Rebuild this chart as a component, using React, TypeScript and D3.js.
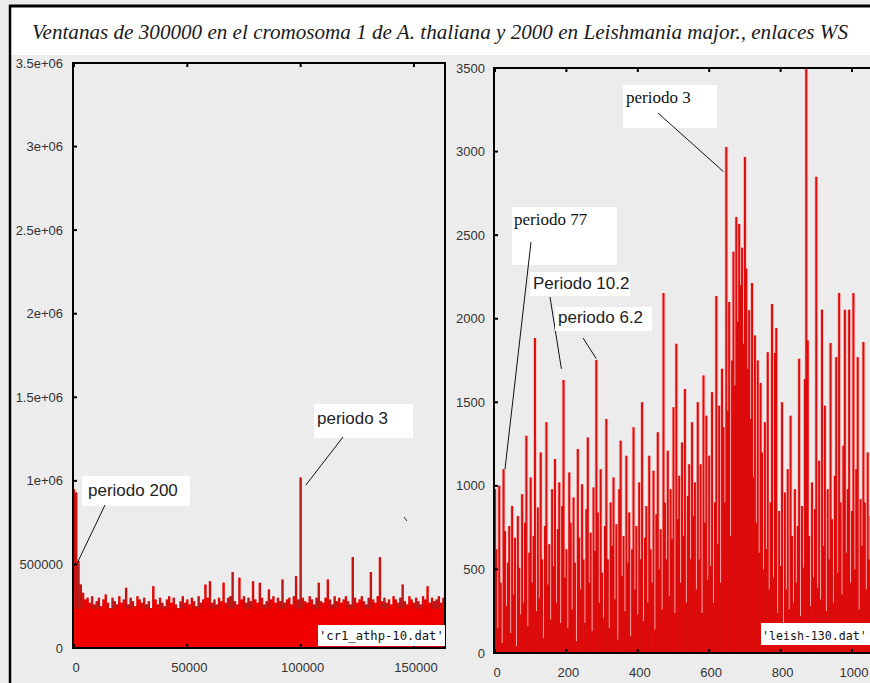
import React from 'react';
import * as d3 from 'd3';

const TITLE = 'Ventanas de 300000 en el cromosoma 1 de A. thaliana y 2000 en Leishmania major., enlaces WS';

// Left panel (A. thaliana, window 300000)
const leftTicksY = [0, 500000, 1000000, 1500000, 2000000, 2500000, 3000000, 3500000];
const leftTickLabelsY = ['0', '500000', '1e+06', '1.5e+06', '2e+06', '2.5e+06', '3e+06', '3.5e+06'];
const leftTicksX = [0, 50000, 100000, 150000];
const leftTickLabelsX = ['0', '50000', '100000', '150000'];
const leftStep = 1000;
// values in thousands
const leftValuesK = [
  950, 930, 520, 380, 330, 290, 300, 270, 310, 260,
  280, 300, 250, 290, 320, 270, 240, 300, 280, 260,
  310, 270, 290, 360, 260, 300, 280, 250, 310, 290,
  270, 300, 260, 280, 240, 370, 290, 260, 300, 270,
  250, 290, 310, 270, 300, 260, 240, 280, 310, 270,
  290, 260, 300, 280, 250, 310, 270, 290, 380, 300,
  400, 270, 290, 260, 300, 280, 390, 270, 300, 310,
  455, 280, 260, 420, 290, 310, 270, 300, 280, 400,
  290, 270, 390, 300, 260, 280, 350, 290, 310, 270,
  300, 280, 410, 270, 290, 300, 260, 310, 430, 290,
  1020, 300, 280, 270, 310, 290, 260, 300, 390, 280,
  270, 300, 410, 290, 260, 310, 280, 300, 270, 290,
  310, 280, 260, 545, 300, 270, 290, 310, 280, 260,
  300, 455, 290, 270, 310, 545, 280, 300, 270, 290,
  260, 310, 290, 270, 300, 380, 280, 260, 310, 290,
  270, 300, 280, 260, 310, 290, 370, 270, 300, 280,
  290, 310, 270, 300,
];
const leftLegend = "'cr1_athp-10.dat'";

// Right panel (Leishmania major, window 2000)
const rightTicksY = [0, 500, 1000, 1500, 2000, 2500, 3000, 3500];
const rightTicksX = [0, 200, 400, 600, 800, 1000];
const rightStep = 4;
const rightValues = [
  980, 620, 150, 1000, 420, 60, 1100, 730, 280, 540,
  760, 120, 880, 350, 690, 40, 820, 510, 230, 950,
  300, 780, 1300, 160, 600, 1050, 420, 700, 1885, 250,
  870, 330, 1200, 560, 90, 760, 1380, 410, 650, 200,
  980, 520, 1160, 300, 740, 1020, 180, 880, 1633, 450,
  620, 150, 1080, 780, 260, 930, 540, 70, 1220, 690,
  380, 1010, 560, 180, 860, 1290, 420, 720, 130, 990,
  610, 1753, 840, 300, 1100, 480, 210, 760, 1400, 560,
  150, 900, 640, 1050, 320, 770, 80, 980, 1270, 460,
  700, 250, 1180, 540, 840, 100, 620, 1350, 380, 760,
  230, 1020, 560, 1500, 190, 690, 880, 300, 1180, 620,
  420, 1090, 140, 830, 1320, 500, 740, 260, 2154, 900,
  560, 1210, 340, 980, 680, 1470, 240, 1850, 800, 1060,
  420, 1260, 700, 1580, 300, 940, 1130, 560, 1380, 820,
  1020, 380, 1500, 560, 1130, 240, 1660, 780, 1420, 440,
  1180, 520, 1560, 300, 900, 2136, 650, 1480, 420, 1700,
  1350, 900, 3028, 1450, 2100, 700, 1750, 2400, 1600, 2609,
  1980, 2567, 2200, 2424, 1850, 2968, 2300, 1700, 2050, 1400,
  2214, 1050, 1900, 780, 1750, 600, 1616, 1200, 500, 1380,
  620, 1800, 380, 900, 2088, 450, 1795, 1945, 240, 850,
  520, 1500, 180, 960, 380, 1100, 260, 1420, 700, 300,
  980, 420, 760, 1760, 220, 880, 510, 1640, 3500, 1870,
  700, 280, 1020, 450, 860, 2849, 390, 1150, 320, 2053,
  640, 1480, 250, 980, 560, 1855, 800, 300, 1060, 1771,
  480, 2154, 900, 350, 1240, 2053, 600, 980, 2053, 420,
  850, 2154, 500, 1100, 1770, 260, 920, 640, 1860, 900,
  380, 1200, 560, 820, 300,
];
const rightLegend = "'leish-130.dat'";

const SANS = '"Liberation Sans", Arial, sans-serif';
const SERIF = '"Liberation Serif", "Times New Roman", serif';
const MONO = '"DejaVu Sans Mono", monospace';

export default function App() {
  const W = 870, H = 683;
  const BG = '#ececec';

  // Left scales
  const L = { x0: 73, x1: 445, y0: 63, y1: 648 };
  const xL = d3.scaleLinear().domain([0, 163700]).range([74, 445]);
  const yL = d3.scaleLinear().domain([0, 3500000]).range([648, 63]);
  // Right scales
  const R = { x0: 494, x1: 880, y0: 68, y1: 653 };
  const xR = d3.scaleLinear().domain([0, 1000]).range([495, 852]);
  const yR = d3.scaleLinear().domain([0, 3500]).range([653, 68]);

  const leftPath = leftValuesK
    .map((v, i) => `M${xL(i * leftStep).toFixed(2)},${yL(0)}V${yL(v * 1000).toFixed(2)}`)
    .join('');
  const leftTipPath = leftValuesK
    .map((v, i) => (v > 235 ? `M${xL(i * leftStep).toFixed(2)},${yL(235000).toFixed(2)}V${yL(v * 1000).toFixed(2)}` : ''))
    .join('');
  const rightPath = rightValues
    .map((v, i) => `M${xR(i * rightStep).toFixed(2)},${yR(0)}V${yR(v).toFixed(2)}`)
    .join('');

  const tickLen = 4;

  return (
    <svg width={W} height={H} style={{ position: 'fixed', left: 0, top: 0, background: BG }}>
      <defs>
        <clipPath id="clipL"><rect x={L.x0} y={L.y0} width={L.x1 - L.x0} height={L.y1 - L.y0} /></clipPath>
        <clipPath id="clipR"><rect x={R.x0} y={R.y0} width={R.x1 - R.x0} height={R.y1 - R.y0} /></clipPath>
      </defs>
      <rect x={0} y={0} width={W} height={H} fill={BG} />
      {/* title area */}
      <rect x={10} y={6} width={W - 10} height={49} fill="#ffffff" />
      <line x1={9} x2={W} y1={6} y2={6} stroke="#000" strokeWidth={3} />
      <line x1={10} x2={10} y1={5} y2={H} stroke="#000" strokeWidth={2.5} />
      <text x={32} y={39} fontFamily={SERIF} fontStyle="italic" fontSize={21} fill="#1a1a1a"
        textLength={816} lengthAdjust="spacingAndGlyphs">{TITLE}</text>

      {/* ---------- Left panel ---------- */}
      <g clipPath="url(#clipL)">
        <path d={leftPath} stroke="#f00000" strokeWidth={2.4} fill="none" />
        <path d={leftTipPath} stroke="#b51c1c" strokeWidth={1.1} fill="none" />
      </g>
      <rect x={L.x0} y={L.y0} width={L.x1 - L.x0} height={L.y1 - L.y0} fill="none" stroke="#000" strokeWidth={2} />
      {leftTicksY.map((t, i) => (
        <g key={'ly' + i}>
          <line x1={L.x0} x2={L.x0 + tickLen} y1={yL(t)} y2={yL(t)} stroke="#000" strokeWidth={2} />
          <text x={63} y={yL(t)} dy="0.35em" textAnchor="end" fontFamily={SANS} fontSize={13} fill="#333">{leftTickLabelsY[i]}</text>
        </g>
      ))}
      {leftTicksX.map((t, i) => (
        <g key={'lx' + i}>
          <line x1={xL(t)} x2={xL(t)} y1={L.y1} y2={L.y1 - tickLen} stroke="#000" strokeWidth={2} />
          <line x1={xL(t)} x2={xL(t)} y1={L.y0} y2={L.y0 + tickLen} stroke="#000" strokeWidth={2} />
          <text x={xL(t) + 2} y={672} textAnchor="middle" fontFamily={SANS} fontSize={13} fill="#333">{leftTickLabelsX[i]}</text>
        </g>
      ))}
      {/* legend */}
      <rect x={318} y={625} width={127} height={21} fill="#fff" />
      <text x={319} y={640} fontFamily={MONO} fontSize={12.2} fill="#111">{leftLegend}</text>
      {/* annotations left */}
      <rect x={82} y={476} width={108} height={30} fill="#fff" />
      <text x={88} y={496} fontFamily={SANS} fontSize={17} fill="#222">periodo 200</text>
      <line x1={105} y1={505} x2={xL(1500)} y2={yL(510000)} stroke="#111" strokeWidth={1} />
      <rect x={314} y={404} width={99} height={34} fill="#fff" />
      <text x={317} y={424} fontFamily={SANS} fontSize={17} fill="#222">periodo 3</text>
      <line x1={343} y1={437} x2={xL(100500) + 4} y2={yL(1010000) + 6} stroke="#111" strokeWidth={1} />
      <line x1={404} y1={517} x2={407} y2={521} stroke="#333" strokeWidth={1} />

      {/* ---------- Right panel ---------- */}
      <g clipPath="url(#clipR)">
        <path d={rightPath} stroke="#f2b8b8" strokeWidth={3.6} fill="none" />
        <path d={rightPath} stroke="#f00000" strokeWidth={1.9} fill="none" />
        <path d={rightPath} stroke="#b82222" strokeWidth={0.5} fill="none" />
      </g>
      <rect x={R.x0} y={R.y0} width={R.x1 - R.x0} height={R.y1 - R.y0} fill="none" stroke="#000" strokeWidth={2} />
      {rightTicksY.map((t, i) => (
        <g key={'ry' + i}>
          <line x1={R.x0} x2={R.x0 + tickLen} y1={yR(t)} y2={yR(t)} stroke="#000" strokeWidth={2} />
          <text x={485} y={yR(t)} dy="0.35em" textAnchor="end" fontFamily={SANS} fontSize={13} fill="#333">{String(t)}</text>
        </g>
      ))}
      {rightTicksX.map((t, i) => (
        <g key={'rx' + i}>
          <line x1={xR(t)} x2={xR(t)} y1={R.y1} y2={R.y1 - tickLen} stroke="#000" strokeWidth={2} />
          <line x1={xR(t)} x2={xR(t)} y1={R.y0} y2={R.y0 + tickLen} stroke="#000" strokeWidth={2} />
          <text x={xR(t) + 2} y={677} textAnchor="middle" fontFamily={SANS} fontSize={13} fill="#333">{String(t)}</text>
        </g>
      ))}
      <rect x={761} y={623} width={115} height={22} fill="#fff" />
      <text x={762} y={640} fontFamily={MONO} fontSize={11.6} fill="#111">{rightLegend}</text>

      {/* annotations right */}
      <rect x={623} y={85} width={94} height={43} fill="#fff" />
      <text x={626} y={103} fontFamily={SERIF} fontSize={17} fill="#111">periodo 3</text>
      <line x1={658} y1={113} x2={xR(640)} y2={yR(2880)} stroke="#111" strokeWidth={1} />

      <rect x={512} y={207} width={105} height={58} fill="#fff" />
      <text x={514} y={225} fontFamily={SERIF} fontSize={17} fill="#111">periodo 77</text>
      <line x1={531} y1={242} x2={xR(28)} y2={yR(1100)} stroke="#111" strokeWidth={1} />

      <rect x={530} y={272} width={100} height={24} fill="#fff" />
      <text x={533} y={289} fontFamily={SANS} fontSize={17} fill="#222">Periodo 10.2</text>
      <line x1={550} y1={297} x2={xR(186)} y2={yR(1700)} stroke="#111" strokeWidth={1} />

      <rect x={555} y={307} width={97} height={24} fill="#fff" />
      <text x={558} y={323} fontFamily={SANS} fontSize={17} fill="#222">periodo 6.2</text>
      <line x1={583} y1={338} x2={xR(284)} y2={yR(1760)} stroke="#111" strokeWidth={1} />
    </svg>
  );
}
